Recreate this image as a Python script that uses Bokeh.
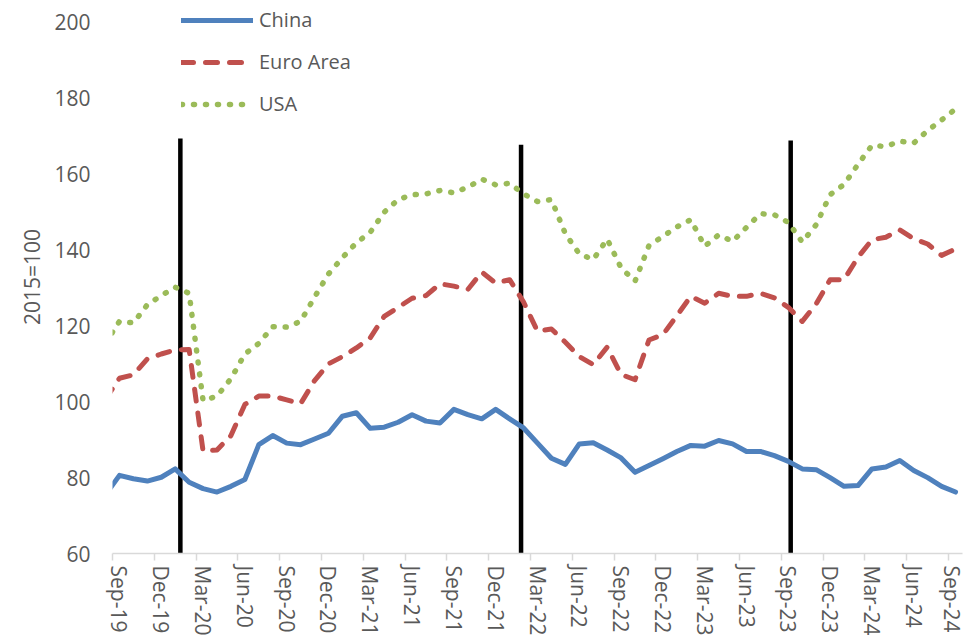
import pandas as pd
from bokeh.plotting import figure
from bokeh.models import Range1d, FixedTicker, ColumnDataSource
from bokeh.embed import file_html
from bokeh.resources import INLINE

# Monthly index, Aug-19 .. Sep-24 (Aug-19 lies just left of the visible axis)
months = list(pd.date_range("2019-08-01", "2024-09-01", freq="MS").strftime("%b-%y"))

china = [75.5,
         80.6, 79.7, 79.1, 80.1, 82.3, 78.8, 77.1, 76.2, 77.7, 79.5,
         88.7, 91.1, 89.1, 88.7, 90.2, 91.7, 96.2, 97.1, 93.0, 93.3,
         94.6, 96.6, 94.9, 94.4, 98.0, 96.6, 95.5, 98.0, 95.5, 93.1,
         89.1, 85.1, 83.5, 88.9, 89.2, 87.3, 85.2, 81.4, 83.2, 85.0,
         86.9, 88.5, 88.3, 89.8, 88.9, 86.9, 86.9, 85.8, 84.3, 82.3,
         82.1, 80.0, 77.7, 77.9, 82.3, 82.8, 84.5, 81.9, 80.0, 77.7,
         76.2]

euro = [100.7,
        106.2, 107.1, 111.3, 112.6, 113.7, 113.8, 87.0, 87.3, 91.1, 99.3,
        101.5, 101.5, 100.5, 99.5, 105.6, 110.0, 111.9, 114.2, 116.9, 122.5,
        124.9, 127.3, 128.0, 131.1, 130.5, 129.6, 134.2, 131.3, 132.2, 126.3,
        118.6, 119.2, 115.7, 111.9, 109.8, 114.4, 107.2, 105.8, 116.3, 117.7,
        122.7, 127.8, 126.0, 128.6, 127.8, 127.8, 128.6, 127.4, 124.9, 121.2,
        125.8, 132.2, 132.2, 138.1, 142.7, 143.4, 145.3, 143.0, 141.6, 138.6,
        140.3]

usa = [115.5,
       121.2, 120.8, 125.6, 128.0, 130.2, 128.6, 100.3, 101.5, 106.1, 112.6,
       115.4, 119.8, 119.7, 121.2, 127.6, 133.7, 138.0, 141.9, 144.7, 150.0,
       153.3, 154.6, 154.8, 155.7, 155.1, 156.6, 158.7, 157.2, 157.6, 154.8,
       152.8, 153.3, 144.3, 139.0, 137.5, 142.9, 135.3, 131.8, 141.2, 143.6,
       146.1, 148.0, 141.0, 144.0, 142.3, 146.0, 149.6, 149.3, 147.3, 142.1,
       146.7, 154.6, 157.3, 162.6, 167.6, 167.3, 168.7, 168.2, 171.5, 174.3,
       177.2]

tick_labels = ["Sep-19", "Dec-19", "Mar-20", "Jun-20", "Sep-20", "Dec-20",
               "Mar-21", "Jun-21", "Sep-21", "Dec-21", "Mar-22", "Jun-22",
               "Sep-22", "Dec-22", "Mar-23", "Jun-23", "Sep-23", "Dec-23",
               "Mar-24", "Jun-24", "Sep-24"]

y_ticks = [60, 80, 100, 120, 140, 160, 180, 200]

# event markers (month position relative to Sep-19, top value)
event_pos = [4.37, 28.82, 48.17]
event_top = [169.4, 167.8, 168.9]

x = [i - 1 for i in range(len(months))]  # Sep-19 -> 0
src = ColumnDataSource(dict(x=x, china=china, euro=euro, usa=usa))

FONT = "Open Sans"
GREY = "#595959"

p = figure(width=950, height=639, output_backend="svg", toolbar_location=None,
           x_range=Range1d(-0.5, 60.5), y_range=Range1d(60, 205.8),
           min_border_left=96, min_border_right=3, min_border_top=0,
           min_border_bottom=86)
p.margin = (0, 0, 0, 15)
p.outline_line_color = None
p.xgrid.visible = False
p.ygrid.visible = False
p.background_fill_color = "white"

# x axis
tick_pos = [months.index(t) - 1 for t in tick_labels]
minor_pos = [t - 0.5 for t in tick_pos]
xa = p.xaxis[0]
xa.ticker = FixedTicker(ticks=tick_pos, minor_ticks=minor_pos)
xa.major_label_overrides = {t: l for t, l in zip(tick_pos, tick_labels)}
xa.major_label_orientation = "vertical"
xa.major_tick_line_color = None
xa.major_tick_out = 7
xa.major_tick_in = 0
xa.minor_tick_line_color = "#D9D9D9"
xa.minor_tick_line_width = 1.5
xa.minor_tick_out = 7
xa.minor_tick_in = 0
xa.axis_line_color = "#D9D9D9"
xa.axis_line_width = 1.5
xa.major_label_standoff = 5
xa.major_label_text_font = FONT
xa.major_label_text_font_size = "21px"
xa.major_label_text_color = GREY

# y axis
ya = p.yaxis[0]
ya.ticker = FixedTicker(ticks=y_ticks)
ya.axis_line_color = None
ya.major_tick_line_color = None
ya.minor_tick_line_color = None
ya.major_tick_out = 0
ya.major_tick_in = 0
ya.major_label_standoff = 22
ya.major_label_text_font = FONT
ya.major_label_text_font_size = "21px"
ya.major_label_text_color = GREY
ya.axis_label = "2015=100"
ya.axis_label_text_font = FONT
ya.axis_label_text_font_size = "21px"
ya.axis_label_text_font_style = "normal"
ya.axis_label_text_color = GREY
ya.axis_label_standoff = 5

# event lines
p.segment(x0=event_pos, x1=event_pos, y0=[60] * 3, y1=event_top,
          line_color="black", line_width=4.5)

# series
p.line("x", "china", source=src, line_color="#4F81BD", line_width=5,
       line_cap="round", line_join="round", legend_label="China")
p.line("x", "euro", source=src, line_color="#C0504D", line_width=5,
       line_dash="12 12", line_cap="round", line_join="round",
       legend_label="Euro Area")
p.line("x", "usa", source=src, line_color="#9BBB59", line_width=5.5,
       line_dash="1 11", line_cap="round", line_join="round",
       legend_label="USA")

lg = p.legend[0]
lg.location = (69, 436)
lg.orientation = "vertical"
lg.glyph_width = 72
lg.glyph_height = 16
lg.label_height = 16
lg.label_standoff = 6
lg.spacing = 15
lg.padding = 0
lg.margin = 0
lg.border_line_alpha = 0
lg.background_fill_alpha = 0
lg.label_text_font = FONT
lg.label_text_font_size = "20px"
lg.label_text_color = GREY

open("out.html", "w").write(file_html(p, INLINE))
